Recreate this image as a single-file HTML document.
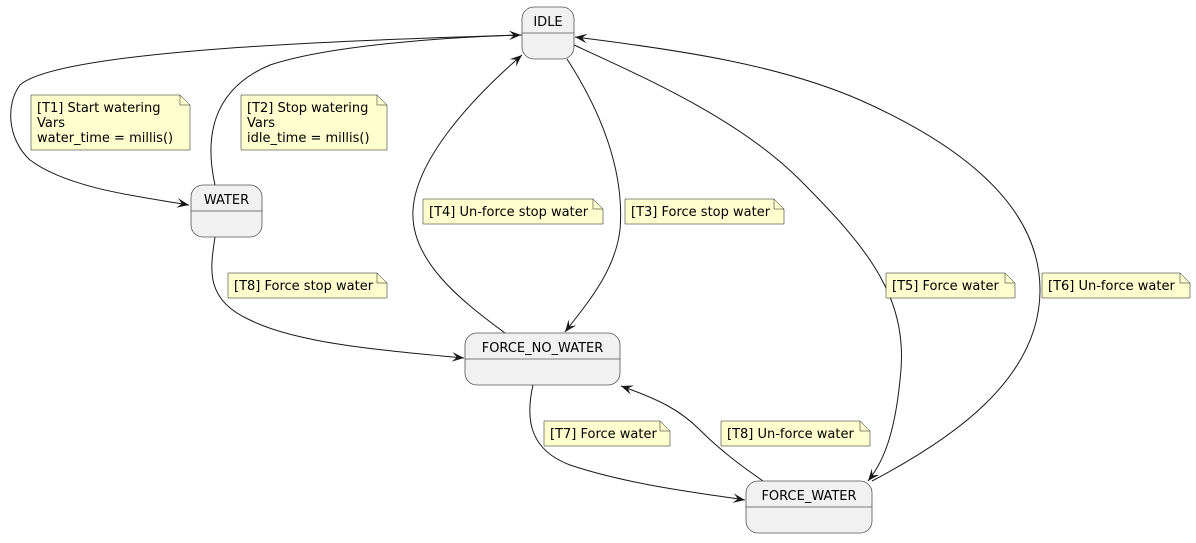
<!DOCTYPE html>
<html><head><meta charset="utf-8"><style>
html,body{margin:0;padding:0;background:#fff;}
text{font-family:"DejaVu Sans","Liberation Sans",sans-serif;font-size:13px;fill:#000;}
</style></head><body>
<svg width="1196" height="538" viewBox="0 0 1196 538" xmlns="http://www.w3.org/2000/svg">
<defs>
<marker id="a" viewBox="0 0 10 8" refX="10" refY="4" markerWidth="12" markerHeight="10" markerUnits="userSpaceOnUse" orient="auto">
<path d="M0,0 L10,4 L0,8 L4,4 Z" fill="#181818"/>
</marker>
</defs>
<g fill="none" stroke="#181818" stroke-width="1">
<path d="M522,35 C350,40 60,50 20,85 C5,105 8,140 30,160 C70,190 150,198 189,205" marker-end="url(#a)"/>
<path d="M215,185 C205,140 210,90 270,65 C330,45 450,37 521,35" marker-end="url(#a)"/>
<path d="M567,59 C600,110 625,170 620,230 C615,270 590,300 565,332" marker-end="url(#a)"/>
<path d="M505,333 C460,300 410,260 413,210 C416,160 470,100 522,55" marker-end="url(#a)"/>
<path d="M574,45 C650,80 740,120 800,180 C870,250 910,300 900,380 C895,430 885,460 868,481" marker-end="url(#a)"/>
<path d="M872,481 C950,440 1040,380 1040,290 C1040,200 950,140 860,100 C780,65 680,50 575,37" marker-end="url(#a)"/>
<path d="M215,237 C210,270 205,300 250,320 C300,345 400,352 464,358" marker-end="url(#a)"/>
<path d="M533,385 C525,420 530,450 570,465 C630,485 700,493 745,500" marker-end="url(#a)"/>
<path d="M763,481 C740,465 720,450 700,430 C680,410 660,400 621,386" marker-end="url(#a)"/>
</g>
<g fill="#f1f1f1" stroke="#555" stroke-width="0.8">
<rect x="522" y="7" width="52" height="52" rx="12"/>
<line x1="522" y1="33" x2="574" y2="33"/>
<rect x="191" y="185" width="71" height="52" rx="12"/>
<line x1="191" y1="211" x2="262" y2="211"/>
<rect x="465" y="333" width="155" height="52" rx="12"/>
<line x1="465" y1="359" x2="620" y2="359"/>
<rect x="746" y="481" width="126" height="52" rx="12"/>
<line x1="746" y1="507" x2="872" y2="507"/>
</g>
<text x="548" y="26" text-anchor="middle" font-size="15.5">IDLE</text>
<text x="226.5" y="204" text-anchor="middle" font-size="15.5">WATER</text>
<text x="542.5" y="352" text-anchor="middle" font-size="15.5">FORCE_NO_WATER</text>
<text x="809" y="500" text-anchor="middle" font-size="15.5">FORCE_WATER</text>
<g fill="#fefece" stroke="#181818" stroke-width="0.5">
<path d="M31,95 H180 L190,105 V150 H31 Z"/><path d="M180,95 V105 H190" fill="none"/>
<path d="M241,95 H377 L387,105 V150 H241 Z"/><path d="M377,95 V105 H387" fill="none"/>
<path d="M423,199 H593 L603,209 V224 H423 Z"/><path d="M593,199 V209 H603" fill="none"/>
<path d="M625,199 H774 L784,209 V224 H625 Z"/><path d="M774,199 V209 H784" fill="none"/>
<path d="M228,273 H377 L387,283 V298 H228 Z"/><path d="M377,273 V283 H387" fill="none"/>
<path d="M886,273 H1005 L1015,283 V298 H886 Z"/><path d="M1005,273 V283 H1015" fill="none"/>
<path d="M1042,273 H1180 L1190,283 V298 H1042 Z"/><path d="M1180,273 V283 H1190" fill="none"/>
<path d="M544,421 H660 L670,431 V446 H544 Z"/><path d="M660,421 V431 H670" fill="none"/>
<path d="M721,421 H860 L870,431 V446 H721 Z"/><path d="M860,421 V431 H870" fill="none"/>
</g>
<text x="37" y="112">[T1] Start watering</text>
<text x="37" y="127">Vars</text>
<text x="37" y="142">water_time = millis()</text>
<text x="247" y="112">[T2] Stop watering</text>
<text x="247" y="127">Vars</text>
<text x="247" y="142">idle_time = millis()</text>
<text x="429" y="216">[T4] Un-force stop water</text>
<text x="631" y="216">[T3] Force stop water</text>
<text x="234" y="290">[T8] Force stop water</text>
<text x="892" y="290">[T5] Force water</text>
<text x="1048" y="290">[T6] Un-force water</text>
<text x="550" y="438">[T7] Force water</text>
<text x="727" y="438">[T8] Un-force water</text>
</svg>
</body></html>
